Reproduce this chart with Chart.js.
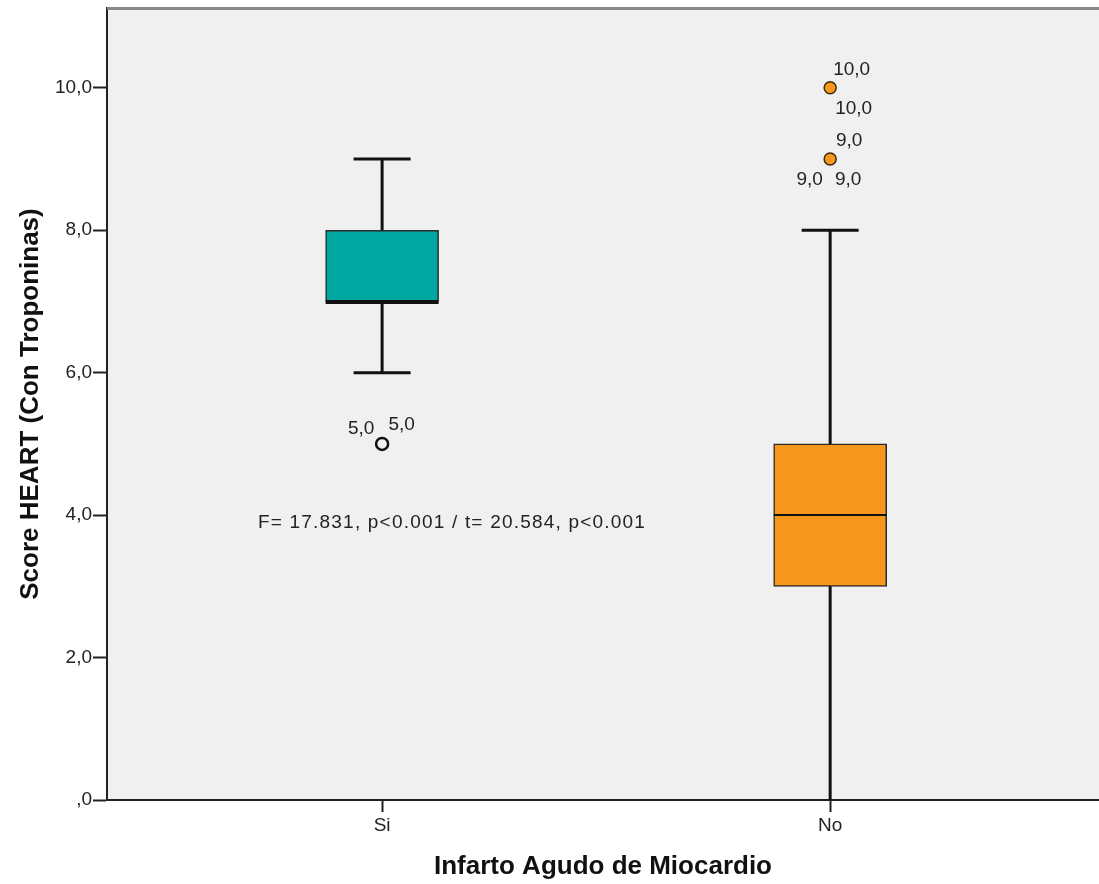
<!DOCTYPE html>
<html>
<head>
<meta charset="utf-8">
<script src="https://cdn.jsdelivr.net/npm/chart.js@4.4.0/dist/chart.umd.min.js"></script>
<style>
  html, body { margin: 0; padding: 0; background: #fff; }
  #wrap { width: 1099px; height: 884px; }
</style>
</head>
<body>
<div id="wrap"><canvas id="chart" width="1099" height="884"></canvas></div>
<script>
// Score HEART por grupo de Infarto Agudo de Miocardio (boxplot SPSS)
const categories = ['Si', 'No'];
const catPos = [1, 2];
const whiskerLow = [6, 0];
const q1 = [7, 3];
const median = [7, 4];
const q3 = [8, 5];
const whiskerHigh = [9, 8];
const outlierCat = [1, 2, 2];
const outlierVal = [5, 9, 10];
// etiquetas de casos junto a cada atípico
const outlierLabels = [['5,0', '5,0'], ['9,0', '9,0', '9,0'], ['10,0', '10,0']];
const yTicks = [0, 2, 4, 6, 8, 10];
const statsText = 'F= 17.831, p<0.001 / t= 20.584, p<0.001';

const FONT = 'Arial, "Liberation Sans", sans-serif';
const boxColors = ['#00a6a0', '#f7981d'];
const outlierFill = ['#f0f0f0', '#f7981d', '#f7981d'];
const outlierBorder = ['#111', '#3a2a10', '#3a2a10'];
const outlierBorderW = [2.5, 1.5, 1.5];

// desplazamientos (px, línea base) de las etiquetas respecto al punto
const labelOffsets = [
    [[-21, -10], [19.5, -14]],
    [[19, -13], [-20.5, 26], [18, 26]],
    [[21.5, -13], [23.5, 26]]
];

function fmtTick(v) {
    let s = v.toFixed(1).replace('.', ',');
    if (s.startsWith('0,')) s = s.slice(1);
    return s;
}

function noPad(s) {
    s.paddingTop = 0;
    s.paddingBottom = 0;
    s.paddingLeft = 0;
    s.paddingRight = 0;
}

const boxPlugin = {
    id: 'boxExtras',
    beforeDraw(chart) {
        const {ctx, chartArea: a} = chart;
        ctx.save();
        ctx.fillStyle = '#f0f0f0';
        ctx.fillRect(a.left, a.top, a.right - a.left, a.bottom - a.top);
        ctx.restore();
    },
    beforeDatasetsDraw(chart) {
        const {ctx, scales: {x, y}} = chart;
        ctx.save();
        ctx.strokeStyle = '#111';
        ctx.lineWidth = 3;
        catPos.forEach((c, i) => {
            const px = x.getPixelForValue(c);
            ctx.beginPath();
            ctx.moveTo(px, y.getPixelForValue(whiskerLow[i]));
            ctx.lineTo(px, y.getPixelForValue(whiskerHigh[i]));
            ctx.stroke();
            [whiskerLow[i], whiskerHigh[i]].forEach(v => {
                if (v <= y.min) return;
                const py = y.getPixelForValue(v);
                ctx.beginPath();
                ctx.moveTo(px - 28.5, py);
                ctx.lineTo(px + 28.5, py);
                ctx.stroke();
            });
        });
        ctx.restore();
    },
    afterDatasetsDraw(chart) {
        const {ctx, chartArea: a, scales: {x, y}} = chart;
        ctx.save();
        // medianas
        ctx.strokeStyle = '#111';
        catPos.forEach((c, i) => {
            const px = x.getPixelForValue(c);
            const onEdge = median[i] === q1[i] || median[i] === q3[i];
            ctx.lineWidth = onEdge ? 4 : 2;
            const py = y.getPixelForValue(median[i]) + (median[i] === q1[i] ? 0.5 : 0);
            ctx.beginPath();
            ctx.moveTo(px - 56.5, py);
            ctx.lineTo(px + 56.5, py);
            ctx.stroke();
        });
        // etiquetas de atípicos
        ctx.fillStyle = '#222';
        ctx.font = '19px ' + FONT;
        ctx.textAlign = 'center';
        ctx.textBaseline = 'alphabetic';
        outlierCat.forEach((c, i) => {
            const px = x.getPixelForValue(c);
            const py = y.getPixelForValue(outlierVal[i]);
            outlierLabels[i].forEach((t, j) => {
                const o = labelOffsets[i][j];
                ctx.fillText(t, px + o[0], py + o[1]);
            });
        });
        // texto estadístico
        ctx.textAlign = 'left';
        ctx.letterSpacing = '1.2px';
        ctx.fillText(statsText, x.getPixelForValue(0.723), y.getPixelForValue(3.82));
        ctx.letterSpacing = '0px';
        // borde superior
        ctx.strokeStyle = '#888';
        ctx.lineWidth = 3;
        ctx.beginPath();
        ctx.moveTo(a.left, a.top + 0.5);
        ctx.lineTo(a.right, a.top + 0.5);
        ctx.stroke();
        ctx.restore();
    }
};

const boxData = catPos.map((c, i) => ({x: c, y: [q1[i], q3[i]]}));
const outlierData = outlierCat.map((c, i) => ({x: c, y: outlierVal[i]}));

new Chart(document.getElementById('chart'), {
    type: 'bar',
    data: {
        datasets: [{
            label: 'caja',
            data: boxData,
            backgroundColor: boxColors,
            borderColor: '#2a2a2a',
            borderWidth: 1.5,
            borderSkipped: false,
            barThickness: 113
        }, {
            type: 'scatter',
            label: 'atípicos',
            data: outlierData,
            pointRadius: 6,
            pointBackgroundColor: outlierFill,
            pointBorderColor: outlierBorder,
            pointBorderWidth: outlierBorderW
        }]
    },
    options: {
        responsive: false,
        animation: false,
        layout: { autoPadding: false, padding: { top: 8, right: 0, left: 0, bottom: 0 } },
        plugins: { legend: { display: false }, tooltip: { enabled: false } },
        scales: {
            x: {
                type: 'linear',
                min: 0.386,
                max: 2.6,
                offset: false,
                afterBuildTicks: s => { s.ticks = catPos.map(v => ({value: v})); },
                afterFit: s => { s.height = 84; noPad(s); },
                ticks: {
                    callback: v => categories[catPos.indexOf(v)] || '',
                    color: '#222',
                    font: { family: FONT, size: 19 },
                    padding: 2,
                    maxRotation: 0
                },
                grid: { drawOnChartArea: false, offset: false, tickLength: 12, tickColor: '#222', tickWidth: 2 },
                border: { color: '#222', width: 2 },
                title: {
                    display: true,
                    text: 'Infarto Agudo de Miocardio',
                    color: '#111',
                    font: { family: FONT, size: 26, weight: 'bold' },
                    padding: { top: 0, bottom: 2 }
                }
            },
            y: {
                min: 0,
                max: 11.12,
                afterBuildTicks: s => { s.ticks = yTicks.map(v => ({value: v})); },
                afterFit: s => { s.width = 107; noPad(s); },
                ticks: {
                    callback: v => fmtTick(v),
                    color: '#222',
                    font: { family: FONT, size: 19 },
                    padding: 1
                },
                grid: { drawOnChartArea: false, tickLength: 14, tickColor: '#222', tickWidth: 2 },
                border: { color: '#222', width: 2 },
                title: {
                    display: true,
                    text: 'Score HEART (Con Troponinas)',
                    color: '#111',
                    font: { family: FONT, size: 26, weight: 'bold' },
                    padding: { top: 15, bottom: 0 }
                }
            }
        }
    },
    plugins: [boxPlugin]
});
</script>
</body>
</html>
